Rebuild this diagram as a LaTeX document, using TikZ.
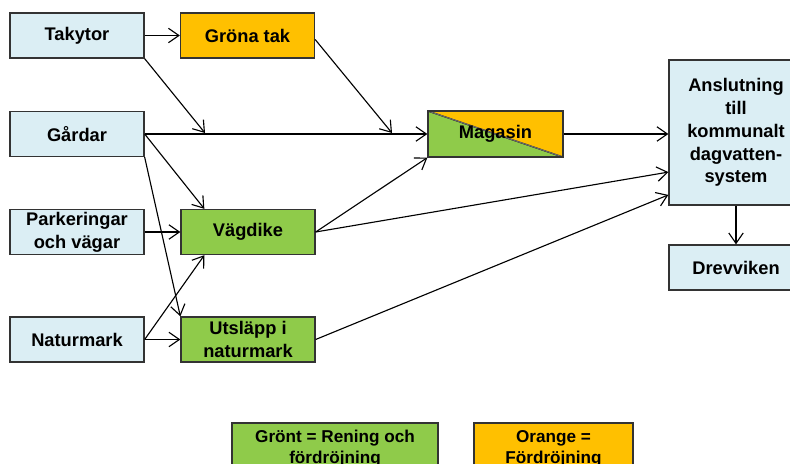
\documentclass[tikz,border=0pt]{standalone}
\usepackage{fontspec}
\setmainfont{Liberation Sans}
\usepackage{tikz}
\usetikzlibrary{arrows.meta}

\definecolor{blubox}{HTML}{DBEEF4}
\definecolor{grnbox}{HTML}{8FCB4A}
\definecolor{orgbox}{HTML}{FFC000}
\definecolor{edgegray}{HTML}{333333}

\tikzset{
  box/.style={draw=edgegray, line width=0.9pt, minimum width=3.35cm, minimum height=1.125cm,
    inner sep=0pt, align=center, font=\fontsize{13}{16.2}\selectfont\bfseries},
  srcbox/.style={box, fill=blubox},
  grnbox/.style={box, fill=grnbox},
  orgbox/.style={box, fill=orgbox},
  legbox/.style={box, font=\fontsize{12.2}{15}\selectfont\bfseries},
  flow/.style={-{Straight Barb[length=2.6mm,width=3.6mm]}, line width=0.8pt},
}

\begin{document}
\begin{tikzpicture}[x=0.025cm, y=-0.025cm]
\useasboundingbox (0,0) rectangle (790,464);
\clip (0,0) rectangle (790,464);

\node[srcbox] (tak) at (77,35.5) {Takytor};
\node[orgbox] (gronatak) at (247.5,35.5) {Gröna tak};
\node[srcbox] (gardar) at (77,134) {Gårdar};
\node[srcbox] (park) at (77,232) {Parkeringar\\och vägar};
\node[grnbox] (vagdike) at (248,232) {Vägdike};
\node[srcbox] (natur) at (77,339.5) {Naturmark};
\node[grnbox] (utslapp) at (248,339.5) {Utsläpp i\\naturmark};
\node[box, minimum width=3.375cm, minimum height=1.15cm,
  path picture={
    \fill[grnbox] (path picture bounding box.north west) -- (path picture bounding box.south east)
      -- (path picture bounding box.south west) -- cycle;
    \fill[orgbox] (path picture bounding box.north west) -- (path picture bounding box.north east)
      -- (path picture bounding box.south east) -- cycle;
    \draw[edgegray!70, line width=0.6pt] (path picture bounding box.north west) -- (path picture bounding box.south east);
  }] (magasin) at (495.5,134) {Magasin};
\node[srcbox, minimum height=3.625cm] (anslut) at (736,132.5) {Anslutning\\till\\kommunalt\\dagvatten-\\system};
\node[srcbox] (drev) at (736,267.5) {Drevviken};

\node[legbox, fill=grnbox, minimum width=5.15cm, minimum height=1.3cm] (leggrn) at (335,449) {Grönt = Rening och\\fördröjning};
\node[legbox, fill=orgbox, minimum width=3.975cm, minimum height=1.3cm] (legorg) at (553.5,449) {Orange =\\Fördröjning};

\coordinate (takjoin) at (205,133);
\coordinate (gronjoin) at (392,133);

\draw[flow] (tak) -- (gronatak);
\draw[flow] (tak.south east) -- (takjoin);
\draw[flow] ([yshift=-0.1cm]gronatak.east) -- (gronjoin);
\draw[flow] (gardar) -- (magasin);
\draw[flow] (gardar.east) -- ([xshift=0.6cm]vagdike.north west);
\draw[flow] (gardar.south east) -- (utslapp.north west);
\draw[flow] (park) -- (vagdike);
\draw[flow] (natur.east) -- ([xshift=0.6cm]vagdike.south west);
\draw[flow] (natur) -- (utslapp);
\draw[flow] (vagdike.east) -- (magasin.south west);
\draw[flow] (vagdike.east) -- ([yshift=-0.99cm]anslut.west);
\draw[flow] (utslapp.east) -- ([yshift=-1.56cm]anslut.west);
\draw[flow] (magasin.east) -- (magasin.east -| anslut.west);
\draw[flow] (anslut) -- (drev);
\end{tikzpicture}
\end{document}
